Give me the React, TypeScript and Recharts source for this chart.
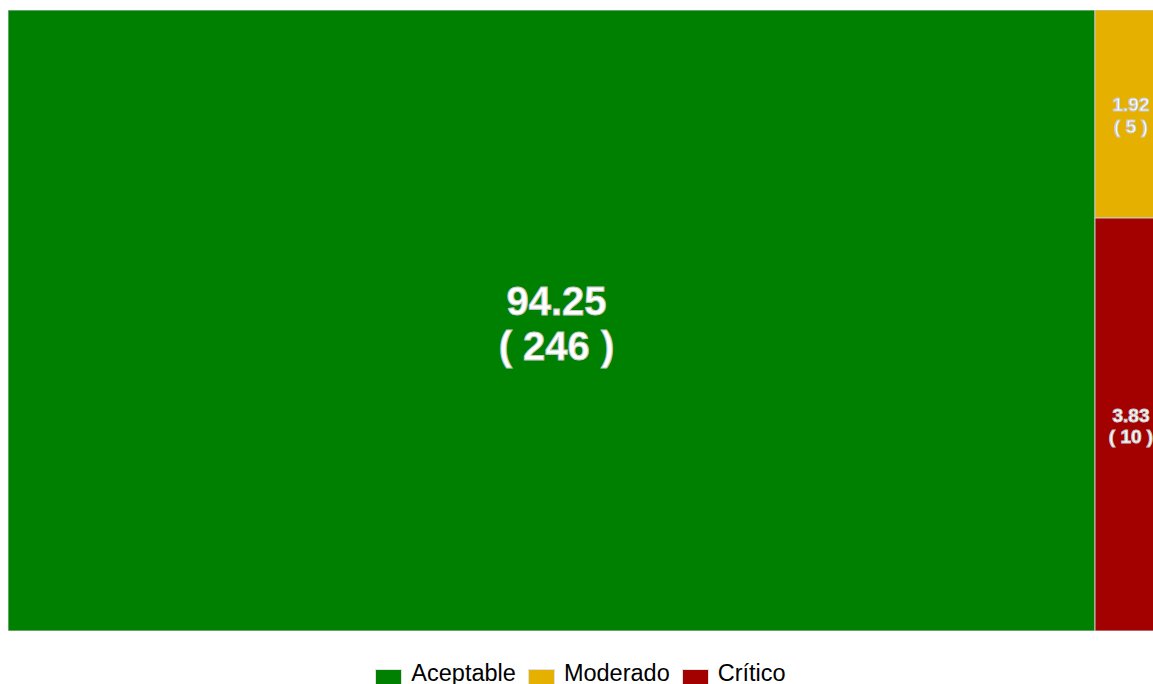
import { Treemap } from "recharts";

const categories = ["Aceptable", "Moderado", "Crítico"];
const counts = [246, 5, 10];
const COLORS = ["#008000", "#E6B000", "#A30000"];

const total = counts.reduce((a, b) => a + b, 0);

const data = categories.map((name, i) => ({
  name,
  value: counts[i],
  pct: ((counts[i] / total) * 100).toFixed(2),
  fill: COLORS[i],
}));

function CellContent(props: any) {
  const { x, y, width, height, depth, pct, value, fill } = props;
  if (depth !== 1) return null;
  const big = width > 200;
  const fs = big ? 40 : 19;
  const cx = x + width / 2 + (big ? 5 : 3);
  const cy = y + height / 2;
  return (
    <g>
      <rect x={x} y={y} width={width} height={height} fill={fill} stroke="#c8c8c8" strokeWidth={1} />
      <text
        x={cx}
        y={cy - 0.15 * fs}
        textAnchor="middle"
        fill="#ffffff"
        fontSize={fs}
        fontWeight="bold"
        fontFamily="'Liberation Sans', Arial, sans-serif"
      >
        {pct}
      </text>
      <text
        x={cx}
        y={cy + 0.98 * fs}
        textAnchor="middle"
        fill="#ffffff"
        fontSize={fs}
        fontWeight="bold"
        fontFamily="'Liberation Sans', Arial, sans-serif"
      >
        {`( ${value} )`}
      </text>
    </g>
  );
}

export default function App() {
  return (
    <div style={{ position: "fixed", left: 0, top: 0, width: 1153, height: 684, overflow: "hidden", background: "#fff" }}>
      <div style={{ position: "absolute", left: 8, top: 10 }}>
        <Treemap
          width={1153}
          height={621}
          data={data}
          dataKey="value"
          nameKey="name"
          stroke="#c8c8c8"
          isAnimationActive={false}
          content={<CellContent />}
        />
      </div>
      <div
        style={{
          position: "absolute",
          left: 10,
          top: 660,
          width: 1153,
          display: "flex",
          justifyContent: "center",
          alignItems: "flex-start",
          fontFamily: "'Liberation Sans', Arial, sans-serif",
          fontSize: 23.5,
          color: "#000",
        }}
      >
        {categories.map((c, i) => (
          <div key={c} style={{ display: "flex", alignItems: "flex-start", marginRight: 12 }}>
            <div
              style={{
                width: 25,
                height: 25,
                marginTop: 9,
                background: COLORS[i],
                border: "1px solid #e0e0e0",
                marginRight: 9,
              }}
            />
            <span style={{ lineHeight: "26px" }}>{c}</span>
          </div>
        ))}
      </div>
    </div>
  );
}
